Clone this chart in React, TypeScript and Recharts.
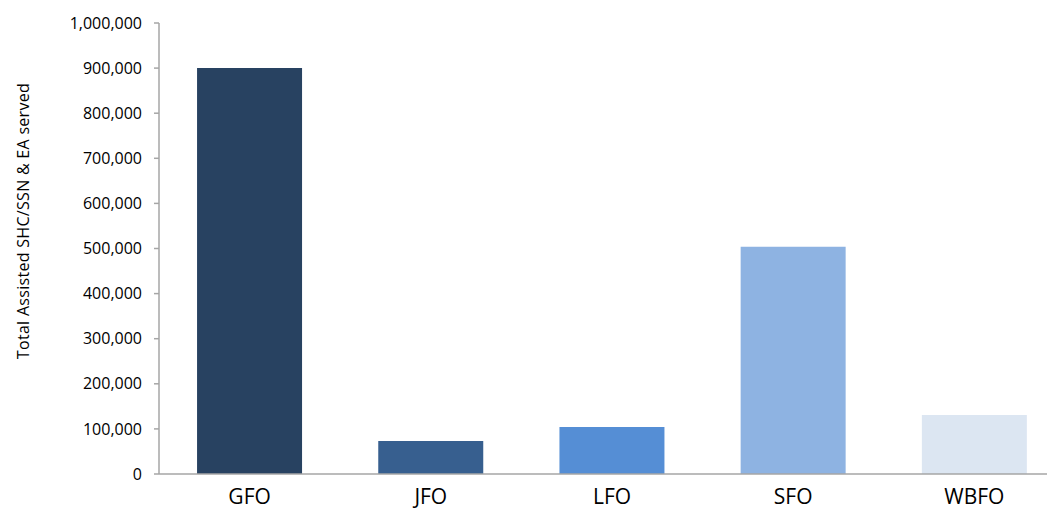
import React from "react";
import { BarChart, Bar, XAxis, YAxis, Cell } from "recharts";

const offices = ["GFO", "JFO", "LFO", "SFO", "WBFO"];
const served = [900000, 73000, 104000, 504000, 131000];
const barColors = ["#284261", "#375f8f", "#558ed5", "#8eb3e2", "#dce6f2"];
const yTicks = [0, 100000, 200000, 300000, 400000, 500000, 600000, 700000, 800000, 900000, 1000000];
const yTitle = "Total Assisted SHC/SSN & EA served";

const data = offices.map((name, i) => ({ name, value: served[i] }));

const fmt = (v: number) => v.toLocaleString("en-US");

// rotated axis title, placed a bit above the axis middle like the original
const YTitle = () => (
  <text
    x={21}
    y={213}
    transform="rotate(-90, 21, 213)"
    textAnchor="middle"
    fill="#000"
    fontSize={16}
    letterSpacing={0.3}
  >
    {yTitle}
  </text>
);

const App: React.FC = () => {
  return (
    <div style={{ fontFamily: "'Open Sans', sans-serif" }}>
      <BarChart
        width={1047}
        height={507}
        data={data}
        margin={{ top: 15, right: 0, bottom: 0, left: 0 }}
        barCategoryGap="21%"
      >
        <XAxis
          dataKey="name"
          height={41}
          tickLine={false}
          tickSize={0}
          tickMargin={15}
          padding={{ left: 0, right: -10 }}
          axisLine={{ stroke: "#a6a6a6", strokeWidth: 1.5 }}
          tick={{ fill: "#000", fontSize: 21 }}
        />
        <YAxis
          width={151}
          domain={[0, 1000000]}
          ticks={yTicks}
          tickFormatter={fmt}
          interval={0}
          tickSize={5}
          tickMargin={12}
          axisLine={{ stroke: "#a6a6a6", strokeWidth: 1.5 }}
          tickLine={{ stroke: "#a6a6a6", strokeWidth: 1.5 }}
          tick={{ fill: "#000", fontSize: 16 }}
          label={{ content: () => <YTitle /> }}
        />
        <Bar dataKey="value" isAnimationActive={false}>
          {data.map((entry, index) => (
            <Cell key={entry.name} fill={barColors[index]} />
          ))}
        </Bar>
      </BarChart>
    </div>
  );
};

export default App;
